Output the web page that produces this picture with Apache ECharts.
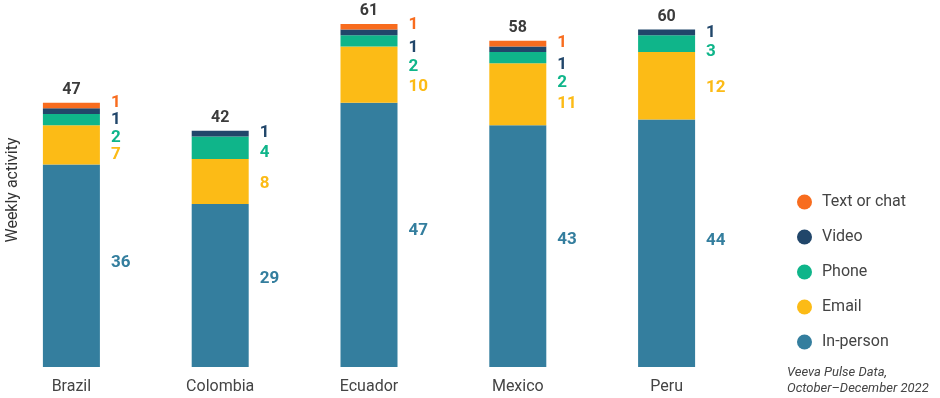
<!DOCTYPE html>
<html>
<head>
<meta charset="utf-8">
<script src="https://cdn.jsdelivr.net/npm/echarts@6/dist/echarts.min.js"></script>
<style>
  html, body { margin: 0; padding: 0; background: #fff; }
  #chart { width: 940px; height: 398px; }
</style>
</head>
<body>
<div id="chart"></div>
<script>
const countries = ['Brazil', 'Colombia', 'Ecuador', 'Mexico', 'Peru'];

const inPerson = [36, 29, 47, 43, 44];
const email = [7, 8, 10, 11, 12];
const phone = [2, 4, 2, 2, 3];
const video = [1, 1, 1, 1, 1];
const textChat = [1, 0, 1, 1, 0];

const legendOrder = ['Text or chat', 'Video', 'Phone', 'Email', 'In-person'];

// vertical nudges so the small side labels don't collide
const labelNudge = {
  'In-person': [-3, -7, -4, -6, -3],
  'Email': [10, 2, 12, 9, 2],
  'Phone': [18, 5, 26, 25, 8],
  'Video': [9, -1, 15, 15, 0],
  'Text or chat': [-3, 0, -2, -1, 0],
};

const FONT = 'Roboto, "Noto Sans", sans-serif';

const layers = [
  { name: 'In-person', data: inPerson, color: '#347e9e' },
  { name: 'Email', data: email, color: '#fcbb16' },
  { name: 'Phone', data: phone, color: '#0fb58a' },
  { name: 'Video', data: video, color: '#21466a' },
  { name: 'Text or chat', data: textChat, color: '#f86c1e' },
];

const totals = countries.map((_, i) => layers.reduce((s, l) => s + l.data[i], 0));

const stackSeries = layers.map((layer) => ({
  name: layer.name,
  type: 'bar',
  stack: 'activity',
  barWidth: 57,
  barGap: '-100%',
  silent: true,
  itemStyle: { color: layer.color },
  data: layer.data.map((v, i) => ({
    value: v,
    label: {
      show: v > 0,
      offset: [0, labelNudge[layer.name][i]],
    },
  })),
  label: {
    position: 'right',
    distance: 11,
    color: layer.color,
    fontFamily: FONT,
    fontWeight: 'bold',
    fontSize: 17,
  },
}));

const totalSeries = {
  name: 'Total',
  type: 'bar',
  barWidth: 57,
  barGap: '-100%',
  silent: true,
  z: 1,
  itemStyle: { color: 'rgba(0,0,0,0)' },
  data: totals,
  label: {
    show: true,
    position: 'top',
    distance: 5,
    color: '#3b3b3b',
    fontFamily: FONT,
    fontWeight: 'bold',
    fontSize: 16,
  },
};

const chart = echarts.init(document.getElementById('chart'));

chart.setOption({
  animation: false,
  grid: {
    left: -3,
    width: 744,
    top: 24,
    height: 343,
    outerBoundsMode: 'none',
  },
  xAxis: {
    type: 'category',
    data: countries,
    axisLine: { show: false },
    axisTick: { show: false },
    axisLabel: {
      margin: 12,
      fontSize: 16,
      color: '#444',
      fontFamily: FONT,
    },
  },
  yAxis: {
    type: 'value',
    min: 0,
    max: 61,
    axisLine: { show: false },
    axisTick: { show: false },
    axisLabel: { show: false },
    splitLine: { show: false },
  },
  legend: {
    data: legendOrder,
    orient: 'vertical',
    left: 792,
    top: 189,
    icon: 'circle',
    itemWidth: 15,
    itemHeight: 15,
    itemGap: 19,
    selectedMode: false,
    textStyle: {
      fontFamily: FONT,
      fontSize: 16,
      lineHeight: 16,
      color: '#444',
      padding: [0, 0, 0, 5],
    },
  },
  graphic: [
    {
      type: 'text',
      x: 5,
      y: 190,
      rotation: Math.PI / 2,
      style: {
        text: 'Weekly activity',
        fontFamily: FONT,
        fontSize: 16,
        fill: '#333',
        align: 'center',
        verticalAlign: 'top',
      },
    },
    {
      type: 'text',
      left: 787,
      top: 365,
      style: {
        text: 'Veeva Pulse Data,\nOctober\u2013December 2022',
        fontFamily: FONT,
        fontStyle: 'italic',
        fontSize: 13,
        lineHeight: 16,
        fill: '#444',
      },
    },
  ],
  series: stackSeries.concat([totalSeries]),
});
</script>
</body>
</html>
